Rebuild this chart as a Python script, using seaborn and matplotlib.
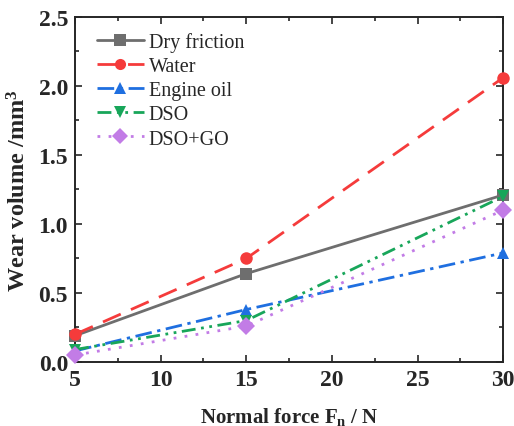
import matplotlib
matplotlib.use("Agg")
import matplotlib.pyplot as plt
from matplotlib.ticker import MultipleLocator
import seaborn as sns
import pandas as pd

force = [5, 15, 30]
dry_friction = [0.19, 0.64, 1.21]
water = [0.20, 0.75, 2.06]
engine_oil = [0.08, 0.38, 0.79]
dso = [0.09, 0.30, 1.20]
dso_go = [0.05, 0.26, 1.10]

series = ["Dry friction", "Water", "Engine oil", "DSO", "DSO+GO"]
values = [dry_friction, water, engine_oil, dso, dso_go]
colors = ["#6e6e6e", "#f53b3b", "#1f6fe0", "#18a65a", "#c27ce6"]
markers = ["s", "o", "^", "v", "D"]
dashes = [(None, None), (7, 4), (6, 2, 1.2, 2), (5, 2, 1, 2, 1, 2), (1, 3)]

df = pd.DataFrame({
    "Force": force * len(series),
    "Wear": [v for vals in values for v in vals],
    "Lubricant": [s for s in series for _ in force],
})

sns.set_style("ticks")
plt.rcParams["font.family"] = "serif"
plt.rcParams["font.serif"] = ["Liberation Serif", "DejaVu Serif"]
plt.rcParams["mathtext.fontset"] = "custom"
plt.rcParams["mathtext.rm"] = "Liberation Serif"
plt.rcParams["mathtext.bf"] = "Liberation Serif:bold"
plt.rcParams["mathtext.it"] = "Liberation Serif:italic"

fig = plt.figure(figsize=(5.14, 4.27), dpi=100)
ax = fig.add_axes([0.146, 0.150, 0.833, 0.808])

for name, c, m, d in zip(series, colors, markers, dashes):
    sub = df[df["Lubricant"] == name]
    sns.lineplot(data=sub, x="Force", y="Wear", ax=ax, color=c, marker=m,
                 markersize=9, markeredgewidth=0, linewidth=2, label=name,
                 clip_on=False, zorder=3)
    line = ax.get_lines()[-1]
    if d[0] is not None:
        line.set_dashes(d)

ax.set_xlim(5, 30)
ax.set_ylim(0, 2.5)
ax.xaxis.set_major_locator(MultipleLocator(5))
ax.xaxis.set_minor_locator(MultipleLocator(2.5))
ax.yaxis.set_major_locator(MultipleLocator(0.5))
ax.yaxis.set_minor_locator(MultipleLocator(0.25))
ax.tick_params(which="both", direction="in", top=True, right=True, width=1.2)
ax.tick_params(which="major", length=5, labelsize=17, pad=5)
ax.tick_params(which="minor", length=3)
for lab in ax.get_xticklabels() + ax.get_yticklabels():
    lab.set_fontweight("bold")
for sp in ax.spines.values():
    sp.set_linewidth(1.4)
    sp.set_visible(True)

ax.set_xlabel(r"Normal force F$_\mathbf{n}$ / N", fontsize=15, fontweight="bold", labelpad=11)
ax.set_ylabel(r"Wear volume /mm$^\mathbf{3}$", fontsize=17.5, fontweight="bold", labelpad=6)

leg = ax.legend(loc="upper left", bbox_to_anchor=(0.019, 0.997), frameon=False,
                handlelength=2.3, borderaxespad=0.3, borderpad=0.4,
                labelspacing=0.25, handletextpad=0.25,
                prop={"family": "Liberation Serif", "size": 14.5})
for h in leg.legend_handles:
    h.set_markersize(8)

fig.savefig("out.png", dpi=100)
